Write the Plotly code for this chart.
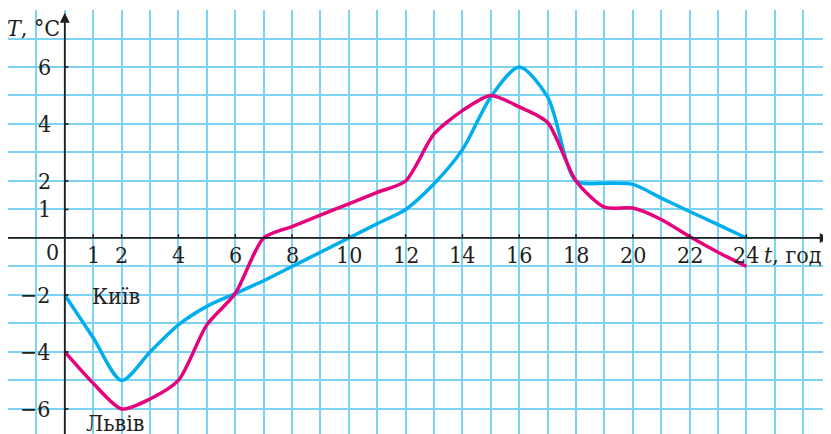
"""Temperature in Kyiv and Lviv during a day

Line chart on a squared grid, axes drawn with arrows
"""

import plotly.graph_objects as go

# data
hours = list(range(0, 25))
kyiv = [-2, -3.5, -5, -4.0, -3.05, -2.4, -1.95, -1.5, -1, -0.5, 0, 0.5, 1,
        1.9, 3.1, 4.95, 6, 4.95, 2, 1.92, 1.88, 1.4, 0.93, 0.47, 0]
lviv = [-4, -5.1, -6, -5.65, -5, -3.05, -1.95, 0, 0.4, 0.8, 1.2, 1.6, 2,
        3.65, 4.47, 5, 4.6, 4.05, 2, 1.08, 1.05, 0.65, 0.05, -0.5, -1]

x_ticks = [1, 2, 4, 6, 8, 10, 12, 14, 16, 18, 20, 22, 24]
y_ticks = [6, 4, 2, 1, -2, -4, -6]

# page body has an 8px margin, so the figure starts at (8, 8) in the window
X_RANGE = [-2, 27.26]
Y_RANGE = [-7.16, 8]
X_END = 26.95   # right edge of the window

BLUE = "#00aeef"
MAGENTA = "#e5007e"
INK = "#231f20"
FONT = "DejaVu Serif Condensed, DejaVu Serif, Liberation Serif"

fig = go.Figure()
fig.add_scatter(x=hours, y=kyiv, mode="lines", name="Київ",
                line=dict(color=BLUE, width=3.5, shape="spline", smoothing=0.8))
fig.add_scatter(x=hours, y=lviv, mode="lines", name="Львів",
                line=dict(color=MAGENTA, width=3.5, shape="spline", smoothing=0.7))

# axes with arrows
fig.add_annotation(x=X_END - 0.02, y=0, ax=-2.3, ay=0, axref="x", ayref="y",
                   showarrow=True, arrowhead=2, arrowsize=1.1, arrowwidth=1.8,
                   arrowcolor=INK, text="")
fig.add_annotation(x=0, y=7.9, ax=0, ay=Y_RANGE[0], axref="x", ayref="y",
                   showarrow=True, arrowhead=2, arrowsize=1.1, arrowwidth=1.8,
                   arrowcolor=INK, text="")

# small tick marks
for t in x_ticks:
    fig.add_shape(type="line", x0=t, x1=t, y0=0, y1=0.13,
                  line=dict(color=INK, width=1.6))
for v in y_ticks:
    fig.add_shape(type="line", x0=0, x1=0.13, y0=v, y1=v,
                  line=dict(color=INK, width=1.6))

# tick labels
for t in x_ticks:
    fig.add_annotation(x=t, y=-0.58, text=str(t), showarrow=False,
                       xanchor="center", yanchor="middle")
for v in y_ticks:
    label = str(v).replace("-", "−")
    fig.add_annotation(x=-0.4, y=v, text=label, showarrow=False,
                       xanchor="right", yanchor="middle")
fig.add_annotation(x=-0.43, y=-0.48, text="0", showarrow=False,
                   xanchor="center", yanchor="middle")

# axis titles and series names
fig.add_annotation(x=-0.1, y=7.37, text="<i>T</i>, °C", showarrow=False,
                   xanchor="right", yanchor="middle")
fig.add_annotation(x=24.55, y=-0.58, text="<i>t</i>, год", showarrow=False,
                   xanchor="left", yanchor="middle")
fig.add_annotation(x=1.8, y=-2.05, text="Київ", showarrow=False,
                   xanchor="center", yanchor="middle")
fig.add_annotation(x=1.78, y=-6.5, text="Львів", showarrow=False,
                   xanchor="center", yanchor="middle")

fig.update_xaxes(range=X_RANGE, dtick=1, tick0=0, showgrid=True,
                 gridcolor="#7dd3f2", gridwidth=1.5, zeroline=False,
                 showticklabels=False, ticks="")
fig.update_yaxes(range=Y_RANGE, dtick=1, tick0=0, showgrid=True,
                 gridcolor="#7dd3f2", gridwidth=1.5, zeroline=False,
                 showticklabels=False, ticks="")

fig.update_layout(
    width=831, height=434,
    margin=dict(l=0, r=0, t=2, b=0),
    showlegend=False,
    plot_bgcolor="white",
    paper_bgcolor="white",
    font=dict(family=FONT, size=23, color=INK),
)

fig.write_html("out.html")
